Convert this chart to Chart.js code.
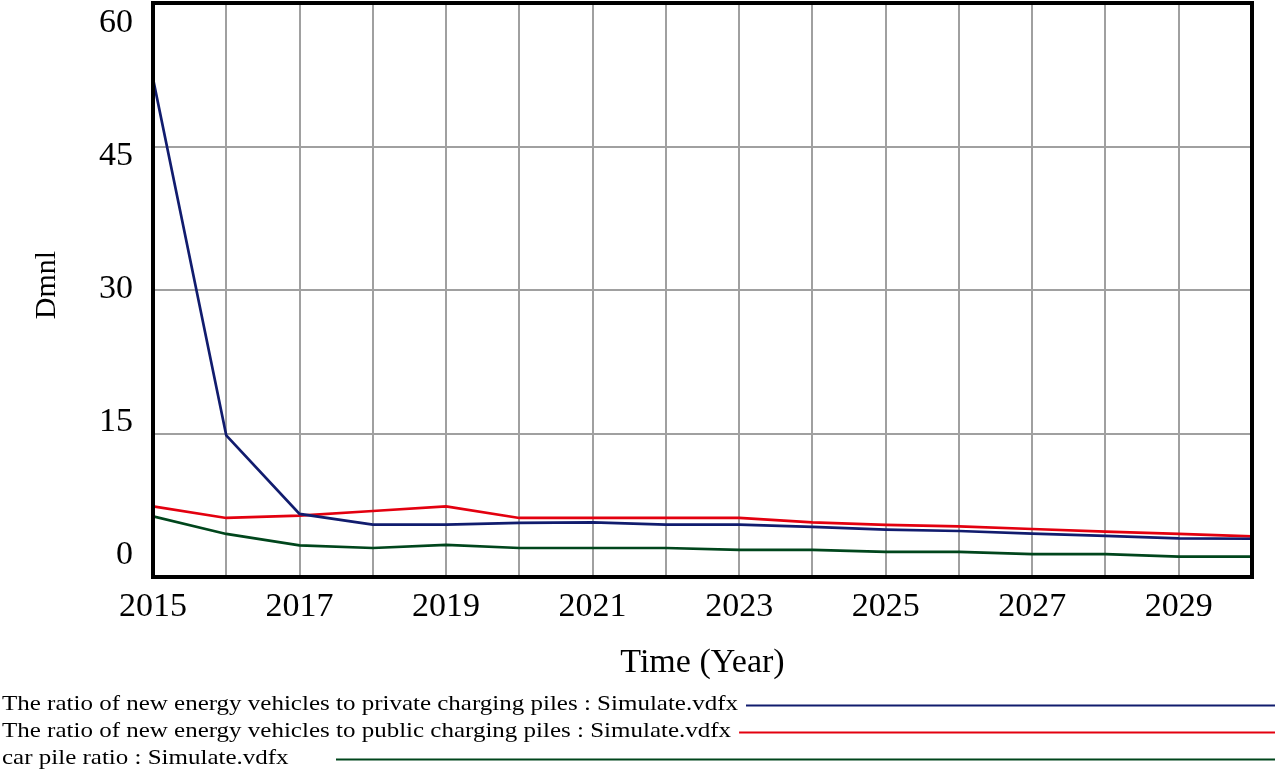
<!DOCTYPE html>
<html>
<head>
<meta charset="utf-8">
<script src="https://cdn.jsdelivr.net/npm/chart.js@4/dist/chart.umd.min.js"></script>
<style>
    html, body { margin: 0; padding: 0; background: #fff; }
    #chart { display: block; }
</style>
</head>
<body>
<canvas id="chart" width="1276" height="771"></canvas>
<script>
// values, one per year 2015..2030
const years = [2015, 2016, 2017, 2018, 2019, 2020, 2021, 2022, 2023, 2024, 2025, 2026, 2027, 2028, 2029, 2030]
const privateRatio = [52.1, 14.8, 6.6, 5.47, 5.47, 5.65, 5.71, 5.47, 5.47, 5.23, 4.95, 4.81, 4.53, 4.29, 4.04, 4.0]
const publicRatio = [7.39, 6.17, 6.42, 6.9, 7.39, 6.17, 6.17, 6.17, 6.17, 5.71, 5.44, 5.3, 5.02, 4.74, 4.5, 4.25]
const carPileRatio = [6.35, 4.5, 3.31, 3.03, 3.35, 3.03, 3.03, 3.03, 2.83, 2.83, 2.62, 2.62, 2.4, 2.4, 2.12, 2.12]
const yTicks = [0, 15, 30, 45, 60]
const legendLabels = [
    "The ratio of new energy vehicles to private charging piles : Simulate.vdfx",
    "The ratio of new energy vehicles to public charging piles : Simulate.vdfx",
    "car pile ratio : Simulate.vdfx",
]
const seriesColors = ["#111c6e", "#e3000f", "#00461c"]

const serif = "'Liberation Serif', 'DejaVu Serif', serif"

/**
 * Pair years with values for a linear x scale
 */
function points(values) {
    return values.map((v, i) => ({ x: years[i], y: v }))
}

/**
 * Frame, y tick labels, axis titles and the Vensim style legend
 */
const decorations = {
    id: "decorations",
    afterDraw(chart) {
        const ctx = chart.ctx
        const area = chart.chartArea
        const yScale = chart.scales.y
        ctx.save()

        // black frame round the plot
        ctx.strokeStyle = "#000"
        ctx.lineWidth = 4
        ctx.strokeRect(area.left, area.top, area.right - area.left, area.bottom - area.top)

        // y tick labels, spread between the frame edges like Vensim does
        ctx.fillStyle = "#000"
        ctx.font = `34px ${serif}`
        ctx.textAlign = "right"
        ctx.textBaseline = "middle"
        yTicks.forEach((v) => {
            const y = yScale.getPixelForValue(v) - 22 + v * 0.7
            ctx.fillText(String(v), 133, y)
        })

        // axis titles
        ctx.textAlign = "center"
        ctx.fillText("Time (Year)", (area.left + area.right) / 2, 663)
        ctx.save()
        ctx.translate(47, 285)
        ctx.rotate(-Math.PI / 2)
        ctx.font = `30px ${serif}`
        ctx.fillText("Dmnl", 0, 0)
        ctx.restore()

        // legend: text (a little stretched, as Vensim renders it) then a line to the right edge
        ctx.font = `22px ${serif}`
        ctx.textAlign = "left"
        const stretch = 736 / ctx.measureText(legendLabels[0]).width
        legendLabels.forEach((label, i) => {
            const y = 704 + i * 27
            ctx.save()
            ctx.translate(2, y)
            ctx.scale(stretch, 1)
            ctx.fillStyle = "#000"
            ctx.fillText(label, 0, 0)
            ctx.restore()
            const start = Math.max(2 + ctx.measureText(label).width * stretch + 8, 336)
            ctx.strokeStyle = seriesColors[i]
            ctx.lineWidth = 2
            ctx.beginPath()
            ctx.moveTo(start, y + 1.5)
            ctx.lineTo(1275, y + 1.5)
            ctx.stroke()
        })
        ctx.restore()
    }
}

new Chart(document.getElementById("chart"), {
    type: "line",
    data: {
        datasets: [privateRatio, publicRatio, carPileRatio].map((values, i) => ({
            label: legendLabels[i],
            data: points(values),
            borderColor: seriesColors[i],
            borderWidth: 2.7,
            pointRadius: 0,
            fill: false,
            tension: 0,
        }))
    },
    options: {
        responsive: false,
        animation: false,
        devicePixelRatio: 1,
        layout: { padding: { top: 3, right: 24, left: 0, bottom: 0 } },
        plugins: {
            legend: { display: false },
            tooltip: { enabled: false },
        },
        scales: {
            x: {
                type: "linear",
                min: 2015,
                max: 2030,
                afterFit: (scale) => { scale.height = 194 },
                grid: { color: "#a0a0a0", lineWidth: 2, drawTicks: false },
                border: { display: false },
                ticks: {
                    stepSize: 1,
                    padding: 10,
                    color: "#000",
                    font: { family: serif, size: 34 },
                    maxRotation: 0,
                    autoSkip: false,
                    callback: (v) => (v % 2 === 1 && v < 2030 ? String(v) : ""),
                },
            },
            y: {
                min: 0,
                max: 60,
                afterFit: (scale) => { scale.width = 153 },
                grid: { color: "#a0a0a0", lineWidth: 2, drawTicks: false },
                border: { display: false },
                ticks: { stepSize: 15, display: false },
            },
        },
    },
    plugins: [decorations],
})
</script>
</body>
</html>
